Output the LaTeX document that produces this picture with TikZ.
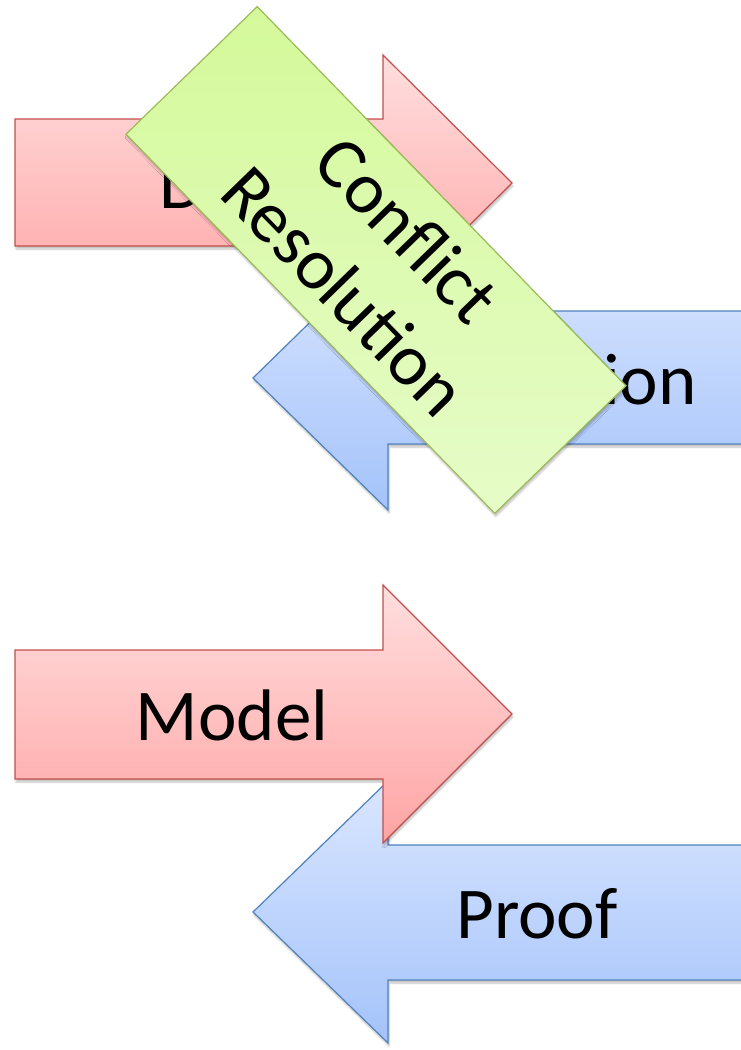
\documentclass[tikz,border=0pt]{standalone}
\usepackage{fontspec}
\setmainfont{Carlito}
\usetikzlibrary{shadows.blur}
\definecolor{redtop}{HTML}{FFDEDE}
\definecolor{redbot}{HTML}{FFA4A4}
\definecolor{redline}{HTML}{C0504D}
\definecolor{bluetop}{HTML}{DAE6FF}
\definecolor{bluebot}{HTML}{A4C3FA}
\definecolor{blueline}{HTML}{4F81BD}
\definecolor{greentop}{HTML}{D4F99A}
\definecolor{greenbot}{HTML}{E6FCC8}
\definecolor{greenline}{HTML}{9BBB59}
\tikzset{
  redarrow/.style={top color=redtop, bottom color=redbot, draw=redline, line width=1.2pt, line join=miter,
    blur shadow={shadow xshift=1pt, shadow yshift=-3pt, shadow blur steps=6, shadow opacity=25}},
  bluearrow/.style={top color=bluetop, bottom color=bluebot, draw=blueline, line width=1.2pt, line join=miter,
    blur shadow={shadow xshift=1pt, shadow yshift=-3pt, shadow blur steps=6, shadow opacity=25}},
  lbl/.style={inner sep=0pt, font=\fontsize{73}{88}\selectfont, text=black},
  notebox/.style={rectangle, minimum width=529pt, minimum height=183pt, inner sep=0pt,
    top color=greentop, bottom color=greenbot, draw=greenline, line width=1.2pt,
    align=center, font=\fontsize{73}{88}\selectfont,
    blur shadow={shadow xshift=1pt, shadow yshift=-3pt, shadow blur steps=6, shadow opacity=25}}
}
\begin{document}
\begin{tikzpicture}[x=1pt,y=-1pt]
\useasboundingbox (0,0) rectangle (740,1050);
% top blue arrow
\path[bluearrow] (760,311) -- (388,311) -- (388,246) -- (253,378) -- (388,510) -- (388,444) -- (760,444) -- cycle;
\node[lbl, anchor=base east] (ion) at (697,404) {ion};
% top red arrow
\path[redarrow] (15,119) -- (383,119) -- (383,55) -- (512,183) -- (383,311) -- (383,246) -- (15,246) -- cycle;
\node[lbl, anchor=base west] (d) at (159,208) {D};
% proof arrow
\path[bluearrow] (760,845) -- (388,845) -- (388,781) -- (253,912) -- (388,1043) -- (388,980) -- (760,980) -- cycle;
\node[lbl, anchor=base] (proof) at (537,938) {Proof};
% model arrow
\path[redarrow] (15,650) -- (383,650) -- (383,585) -- (512,714) -- (383,843) -- (383,779) -- (15,779) -- cycle;
\node[lbl, anchor=base] (model) at (232,740) {Model};
% conflict resolution box
\node[notebox, rotate=-45.8] (cr) at (376,260) {Conflict\\Resolution};
\end{tikzpicture}
\end{document}
